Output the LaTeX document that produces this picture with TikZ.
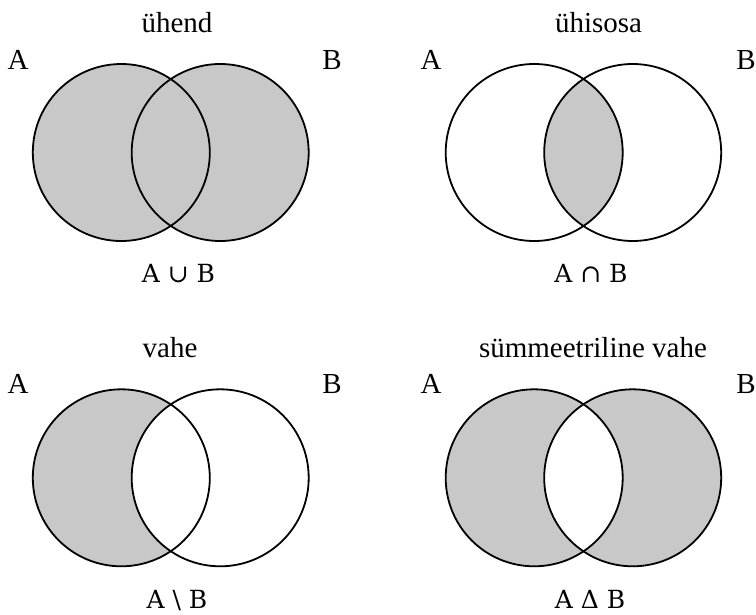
\documentclass[tikz,border=0pt]{standalone}
\usepackage{fontspec}
\setmainfont{Liberation Serif}
\newfontfamily\labfont{DejaVu Serif}
\definecolor{setgray}{RGB}{200,200,200}
\begin{document}
\begin{tikzpicture}[x=1pt,y=-1pt,
  title/.style={anchor=base,inner sep=0pt,font=\fontsize{29}{32}\selectfont},
  setname/.style={anchor=base,inner sep=0pt,font=\fontsize{29}{32}\selectfont},
  oplabel/.style={anchor=base,inner sep=0pt,font=\labfont\fontsize{25}{30}\selectfont},
  outline/.style={draw=black,line width=1.8pt}]
\useasboundingbox (0,0) rectangle (756,614);
\def\R{88.5pt}
% centres
\coordinate (A1) at (121.3,152.5);
\coordinate (B1) at (220.2,152.5);
\coordinate (A2) at (534.2,152.5);
\coordinate (B2) at (632.7,152.5);
\coordinate (A3) at (121.3,477.8);
\coordinate (B3) at (220.2,477.8);
\coordinate (A4) at (534.2,477.8);
\coordinate (B4) at (632.7,477.8);
% union
\fill[setgray] (A1) circle (\R) (B1) circle (\R);
% intersection
\begin{scope}
  \clip (A2) circle (\R);
  \fill[setgray] (B2) circle (\R);
\end{scope}
% difference
\fill[setgray] (A3) circle (\R);
\begin{scope}
  \clip (A3) circle (\R);
  \fill[white] (B3) circle (\R);
\end{scope}
% symmetric difference
\fill[setgray,even odd rule] (A4) circle (\R) (B4) circle (\R);
% outlines
\foreach \c in {A1,B1,A2,B2,A3,B3,A4,B4}
  \draw[outline] (\c) circle (\R);
% titles
\node[title] (t1) at (177,32) {ühend};
\node[title] (t2) at (598.5,32) {ühisosa};
\node[title] (t3) at (170,357.7) {vahe};
\node[title] (t4) at (593,357.7) {sümmeetriline vahe};
% set names
\node[setname] (nA1) at (18,69) {A};
\node[setname] (nB1) at (332,69) {B};
\node[setname] (nA2) at (431,69) {A};
\node[setname] (nB2) at (746,69) {B};
\node[setname] (nA3) at (18,393) {A};
\node[setname] (nB3) at (332,393) {B};
\node[setname] (nA4) at (431,393) {A};
\node[setname] (nB4) at (746,393) {B};
% operation labels
\node[oplabel] (l1) at (178.5,282.7) {A ∪ B};
\node[oplabel] (l2) at (591,282.7) {A ∩ B};
\node[oplabel] (l3) at (177,608.3) {A \textbackslash\ B};
\node[oplabel] (l4) at (590,608.3) {A Δ B};
\end{tikzpicture}
\end{document}
